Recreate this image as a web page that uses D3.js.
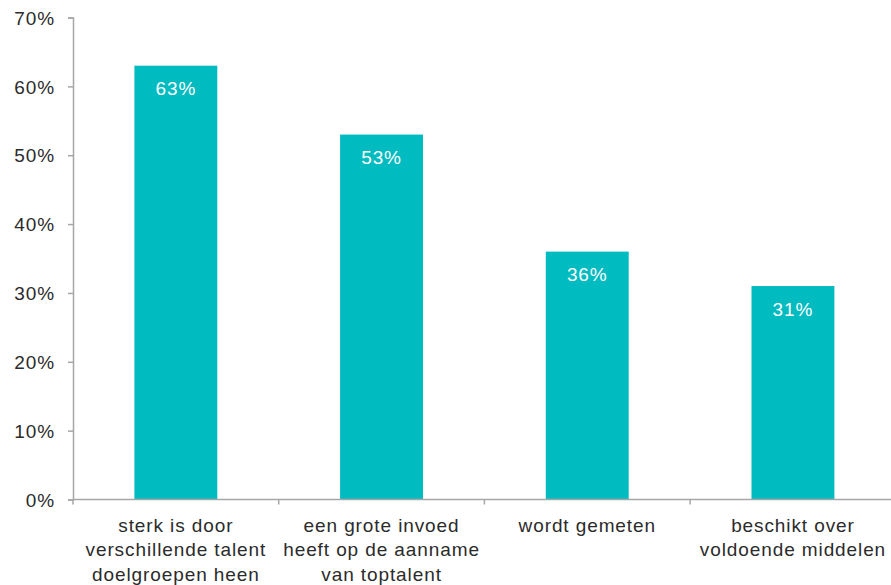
<!DOCTYPE html>
<html>
<head>
<meta charset="utf-8">
<script src="https://cdn.jsdelivr.net/npm/d3@7"></script>
<style>
  body { margin: 0; background: #fff; }
  svg text { font-family: "Liberation Sans", Helvetica, Arial, sans-serif; letter-spacing: 0.9px; }
</style>
</head>
<body>
<svg id="chart" width="891" height="585"></svg>
<script>
// categories (already broken into lines as in the original) and values in %
const categories = [
    ["sterk is door", "verschillende talent", "doelgroepen heen"],
    ["een grote invoed", "heeft op de aanname", "van toptalent"],
    ["wordt gemeten"],
    ["beschikt over", "voldoende middelen"]
];
const values = [63, 53, 36, 31];
const yTicks = [0, 10, 20, 30, 40, 50, 60, 70];

const barColor = "#00bbc0";
const axisColor = "#a6a6a6";
const textColor = "#2b2b2b";

const margin = { top: 17.5, left: 73, bottom: 85.5 };
const innerHeight = 585 - margin.top - margin.bottom;
const bandWidth = 205.7;

const svg = d3.select("#chart");
const g = svg.append("g").attr("transform", `translate(${margin.left},${margin.top})`);

const xScale = d3.scaleBand()
    .domain(d3.range(categories.length))
    .range([0, bandWidth * categories.length]);

const yScale = d3.scaleLinear()
    .domain([0, 70])
    .range([innerHeight, 0]);

const barWidth = xScale.bandwidth() * 0.403;

// bars
g.selectAll(".bar")
    .data(values)
    .join("rect")
    .attr("class", "bar")
    .attr("x", (d, i) => xScale(i) + (xScale.bandwidth() - barWidth) / 2)
    .attr("y", d => yScale(d))
    .attr("width", barWidth)
    .attr("height", d => innerHeight - yScale(d))
    .attr("fill", barColor);

// value labels inside bars
g.selectAll(".value")
    .data(values)
    .join("text")
    .attr("class", "value")
    .attr("x", (d, i) => xScale(i) + xScale.bandwidth() / 2)
    .attr("y", d => yScale(d) + 29.5)
    .attr("text-anchor", "middle")
    .attr("fill", "#fff")
    .attr("font-size", 19)
    .text(d => d + "%");

// y axis
const yAxis = g.append("g")
    .call(d3.axisLeft(yScale).tickValues(yTicks).tickFormat(d => d + "%").tickSize(5).tickPadding(13));
yAxis.select(".domain").attr("stroke", axisColor).attr("stroke-width", 1.5);
yAxis.selectAll(".tick line").attr("stroke", axisColor).attr("stroke-width", 1.5);
yAxis.selectAll(".tick text")
    .attr("fill", textColor)
    .attr("font-size", 19)
    .attr("dy", "0.35em");

// x axis line with category boundary ticks
const xAxisG = g.append("g").attr("transform", `translate(0,${innerHeight})`);
xAxisG.append("line")
    .attr("x1", 0)
    .attr("x2", 891 - margin.left)
    .attr("stroke", axisColor)
    .attr("stroke-width", 1.5);
xAxisG.selectAll(".xtick")
    .data(d3.range(categories.length))
    .join("line")
    .attr("class", "xtick")
    .attr("x1", d => xScale(d))
    .attr("x2", d => xScale(d))
    .attr("y1", 0)
    .attr("y2", 5)
    .attr("stroke", axisColor)
    .attr("stroke-width", 1.5);

// category labels
const catLabels = xAxisG.selectAll(".cat")
    .data(categories)
    .join("text")
    .attr("class", "cat")
    .attr("text-anchor", "middle")
    .attr("fill", textColor)
    .attr("font-size", 19)
    .attr("transform", (d, i) => `translate(${xScale(i) + xScale.bandwidth() / 2},32)`);

catLabels.selectAll("tspan")
    .data(d => d)
    .join("tspan")
    .attr("x", 0)
    .attr("y", (d, i) => i * 24.5)
    .text(d => d);
</script>
</body>
</html>
